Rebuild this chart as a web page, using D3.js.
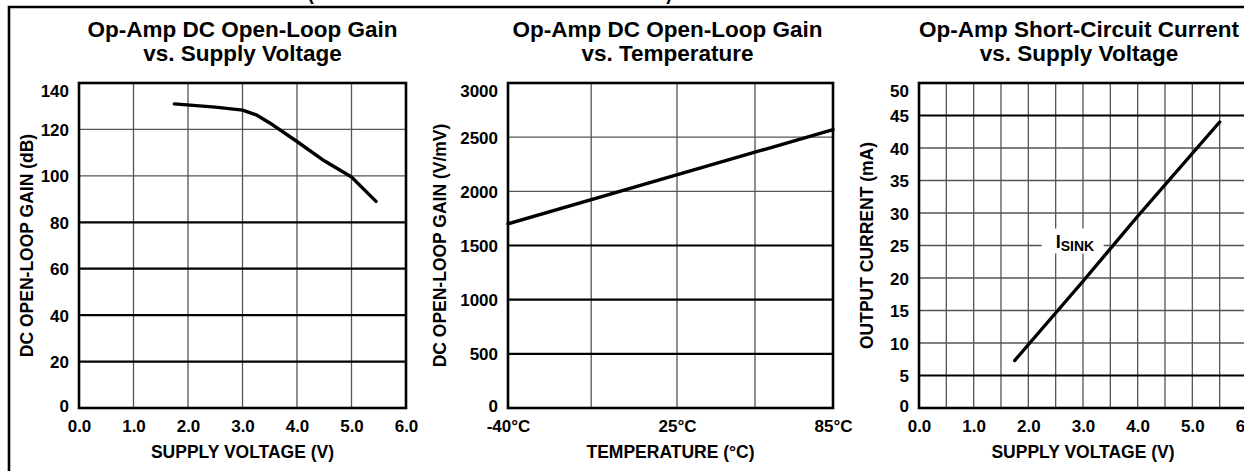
<!DOCTYPE html>
<html>
<head>
<meta charset="utf-8">
<script src="https://cdn.jsdelivr.net/npm/d3@7"></script>
<style>
  body { margin: 0; background: #fff; }
  svg { display: block; font-family: "Liberation Sans", Arial, Helvetica, sans-serif; font-weight: bold; }
</style>
</head>
<body>
<svg id="chart" width="1244" height="471"></svg>
<script>
// panel 1: gain (dB) vs supply voltage
var gainV = [1.75, 2.5, 3.0, 3.25, 3.5, 4.0, 4.5, 5.0, 5.45];
var gainDb = [131, 129.6, 128.3, 126.3, 122.8, 114.8, 106.5, 99.5, 89];
var voltTicks = [0, 1, 2, 3, 4, 5, 6];
var dbTicks = [0, 20, 40, 60, 80, 100, 120, 140];

// panel 2: gain (V/mV) vs temperature
var tempC = [-40, 85];
var gainVmV = [1700, 2570];
var tempTicks = [-40, 25, 85];
var tempGrid = [-8, 25, 55];
var vmvTicks = [0, 500, 1000, 1500, 2000, 2500, 3000];

// panel 3: short-circuit sink current vs supply voltage
var sinkV = [1.75, 3.0, 4.0, 5.5];
var sinkMa = [7.3, 19.5, 29.5, 44];
var maTicks = [0, 5, 10, 15, 20, 25, 30, 35, 40, 45, 50];
var halfVolt = [0.5, 1, 1.5, 2, 2.5, 3, 3.5, 4, 4.5, 5, 5.5];

var svg = d3.select("#chart");
var plotTop = 83, plotBottom = 408;

// outer frame, and the cropped heading above it
svg.append("text").attr("x", 490).attr("y", -1.5).attr("text-anchor", "middle")
  .attr("textLength", 365).attr("lengthAdjust", "spacingAndGlyphs")
  .style("font-size", "22px").text("(TA = 25°C UNLESS OTHERWISE NOTED)");
svg.append("path").attr("d", "M9,480 V7 H1250").attr("fill", "none")
  .attr("stroke", "#000").attr("stroke-width", 2.6);

function panel(o) {
  var x = d3.scaleLinear().domain(o.xDomain).range([o.left, o.right]);
  var y = d3.scaleLinear().domain(o.yDomain).range([plotBottom, plotTop]);
  var g = svg.append("g");
  var cx = (o.left + o.right) / 2;

  // title
  g.append("text").attr("x", cx + (o.titleShift || 0)).attr("y", 37).attr("text-anchor", "middle")
    .style("font-size", "22.5px").text(o.title[0]);
  g.append("text").attr("x", cx + (o.titleShift || 0)).attr("y", 61).attr("text-anchor", "middle")
    .style("font-size", "22.5px").text(o.title[1]);

  // grid
  g.selectAll(".vg").data(o.xGrid).enter().append("line")
    .attr("x1", d => x(d)).attr("x2", d => x(d)).attr("y1", plotTop).attr("y2", plotBottom)
    .attr("stroke", "#555").attr("stroke-width", 1.3);
  g.selectAll(".hg").data(o.yGrid).enter().append("line")
    .attr("x1", o.left).attr("x2", o.right).attr("y1", d => y(d)).attr("y2", d => y(d))
    .attr("stroke", d => o.darkY.indexOf(d) >= 0 ? "#000" : "#555")
    .attr("stroke-width", d => o.darkY.indexOf(d) >= 0 ? 2.2 : 1.3);

  // label knock-out box sits on the grid
  if (o.label) {
    var lx = x(o.label.x), ly = y(o.label.y);
    g.append("rect").attr("x", lx - 14).attr("y", ly - 17).attr("width", 62).attr("height", 25).attr("fill", "#fff");
    var t = g.append("text").attr("x", lx).attr("y", ly + 2).style("font-size", "18px");
    t.append("tspan").text("I");
    t.append("tspan").attr("dy", 3).style("font-size", "14px").text("SINK");
  }

  // frame
  g.append("rect").attr("x", o.left).attr("y", plotTop).attr("width", o.right - o.left)
    .attr("height", plotBottom - plotTop).attr("fill", "none").attr("stroke", "#000").attr("stroke-width", 2.6);

  // curve
  var line = d3.line().x(d => x(d[0])).y(d => y(d[1]));
  g.append("path").datum(d3.zip(o.xs, o.ys)).attr("d", line).attr("fill", "none")
    .attr("stroke", "#000").attr("stroke-width", 3.4).attr("stroke-linecap", "round").attr("stroke-linejoin", "round");

  // axes (labels only)
  var ya = g.append("g").attr("transform", "translate(" + (o.left - 10) + ",0)")
    .call(d3.axisLeft(y).tickValues(o.yTicks).tickSize(0).tickPadding(0).tickFormat(d3.format("d")));
  ya.select(".domain").remove();
  ya.selectAll("text").style("font-size", "17px").style("font-family", null)
    .attr("dy", (d, i, n) => i == n.length - 1 ? "0.8em" : (i == 0 ? "0.2em" : "0.36em"));
  var xa = g.append("g").attr("transform", "translate(0," + (plotBottom + 11) + ")")
    .call(d3.axisBottom(x).tickValues(o.xTicks).tickSize(0).tickPadding(0).tickFormat(o.xFormat));
  xa.select(".domain").remove();
  xa.selectAll("text").style("font-size", "17px").style("font-family", null).attr("dy", "0.76em");

  // axis titles
  g.append("text").attr("x", cx).attr("y", 458).attr("text-anchor", "middle")
    .style("font-size", "17.5px").text(o.xTitle);
  g.append("text").attr("transform", "translate(" + o.yTitleX + "," + ((plotTop + plotBottom) / 2) + ") rotate(-90)")
    .attr("text-anchor", "middle").style("font-size", "17.5px").text(o.yTitle);
}

panel({
  left: 79, right: 406, xDomain: [0, 6], yDomain: [0, 140],
  title: ["Op-Amp DC Open-Loop Gain", "vs. Supply Voltage"],
  xGrid: [1, 2, 3, 4, 5], yGrid: [20, 40, 60, 80, 100, 120], darkY: [20, 40, 60, 80],
  xTicks: voltTicks, yTicks: dbTicks, xFormat: d3.format(".1f"),
  xs: gainV, ys: gainDb,
  xTitle: "SUPPLY VOLTAGE (V)", yTitle: "DC OPEN-LOOP GAIN (dB)", yTitleX: 33
});

panel({
  left: 508, right: 833, xDomain: [-40, 85], yDomain: [0, 3000],
  title: ["Op-Amp DC Open-Loop Gain", "vs. Temperature"], titleShift: -3,
  xGrid: tempGrid, yGrid: [500, 1000, 1500, 2000, 2500], darkY: [500, 1000, 1500],
  xTicks: tempTicks, yTicks: vmvTicks, xFormat: d => d + "°C",
  xs: tempC, ys: gainVmV,
  xTitle: "TEMPERATURE (°C)", yTitle: "DC OPEN-LOOP GAIN (V/mV)", yTitleX: 446
});

panel({
  left: 919, right: 1247, xDomain: [0, 6], yDomain: [0, 50],
  title: ["Op-Amp Short-Circuit Current", "vs. Supply Voltage"], titleShift: -4,
  xGrid: halfVolt, yGrid: maTicks.slice(1, 10), darkY: [5, 45],
  xTicks: voltTicks, yTicks: maTicks, xFormat: d3.format(".1f"),
  xs: sinkV, ys: sinkMa,
  label: { x: 2.5, y: 25 },
  xTitle: "SUPPLY VOLTAGE (V)", yTitle: "OUTPUT CURRENT (mA)", yTitleX: 873
});
</script>
</body>
</html>
